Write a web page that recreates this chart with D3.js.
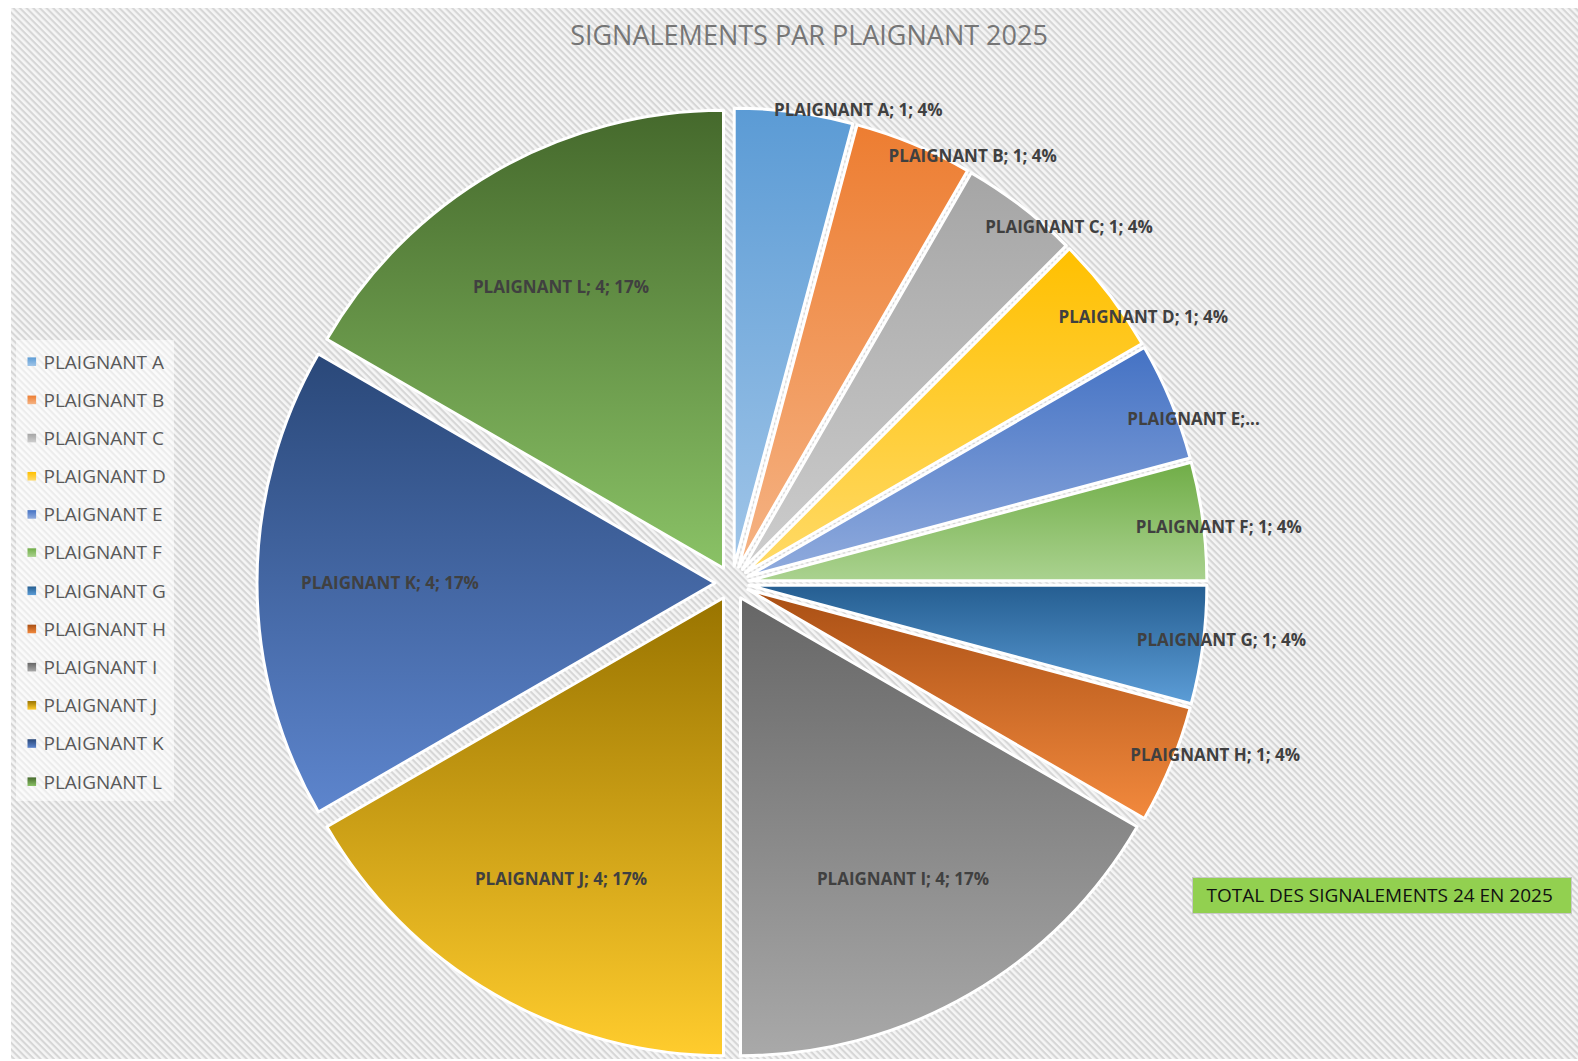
<!DOCTYPE html>
<html>
<head>
<meta charset="utf-8">
<script src="https://cdn.jsdelivr.net/npm/d3@7"></script>
<style>
  body { margin: 0; background: #fff; }
  svg { display: block; }
</style>
</head>
<body>
<div id="chart"></div>
<script>
(function(){
var width = 1578,
	height = 1061,
	cx = 732,
	cy = 583,
	radius = 458,
	explode = 17,
	plotRight = 1306;

// data
var year = 2025;
var categories = ["PLAIGNANT A","PLAIGNANT B","PLAIGNANT C","PLAIGNANT D","PLAIGNANT E","PLAIGNANT F",
	"PLAIGNANT G","PLAIGNANT H","PLAIGNANT I","PLAIGNANT J","PLAIGNANT K","PLAIGNANT L"];
var values = [1,1,1,1,1,1,1,1,4,4,4,4];
var truncated = ["PLAIGNANT E"];

// palette: top (shade) -> bottom (tint) of each slice
var colorTop = ["#5b9bd5","#ed7d31","#a5a5a5","#ffc000","#4472c4","#70ad47",
	"#255e91","#a94f14","#666666","#997400","#2a4879","#45692c"];
var colorBottom = ["#a0c5e8","#f5b384","#cdcdcd","#ffda68","#90abdd","#aad28f",
	"#5c9dd7","#f2893d","#a9a9a9","#ffcc2d","#5d85cd","#8ac266"];

var total = d3.sum(values);
var pct = d3.format(".0%");

var svg = d3.select("#chart").append("svg")
	.attr("width", width)
	.attr("height", height);

var defs = svg.append("defs");

var hatch = defs.append("pattern")
	.attr("id", "hatch")
	.attr("patternUnits", "userSpaceOnUse")
	.attr("width", 4.7)
	.attr("height", 4.7)
	.attr("patternTransform", "rotate(45)");
hatch.append("rect").attr("width", 4.7).attr("height", 4.7).attr("fill", "#f5f5f5");
hatch.append("rect").attr("width", 4.7).attr("height", 2.1).attr("fill", "#d6d6d6");

categories.forEach(function(c, i){
	var g = defs.append("linearGradient")
		.attr("id", "grad" + i)
		.attr("x1", 0).attr("y1", 0).attr("x2", 0).attr("y2", 1);
	g.append("stop").attr("offset", "0%").attr("stop-color", colorTop[i]);
	g.append("stop").attr("offset", "100%").attr("stop-color", colorBottom[i]);
});

// chart area background
svg.append("rect")
	.attr("x", 11).attr("y", 8)
	.attr("width", width - 11).attr("height", 1051)
	.attr("fill", "url(#hatch)");

// title
svg.append("text")
	.attr("x", 809).attr("y", 45)
	.attr("text-anchor", "middle")
	.style("font-family", "'Open Sans', sans-serif")
	.style("font-size", "27px")
	.attr("fill", "#767676")
	.text("SIGNALEMENTS PAR PLAIGNANT " + year);

// pie
var pie = d3.pie().sort(null).value(function(d){ return d; });
var arc = d3.arc().innerRadius(0).outerRadius(radius);
var arcs = pie(values);

function mid(d){ return (d.startAngle + d.endAngle) / 2; }

var slices = svg.append("g").attr("transform", "translate(" + cx + "," + cy + ")");

slices.selectAll("path").data(arcs).enter().append("path")
	.attr("d", arc)
	.attr("transform", function(d){
		var a = mid(d);
		return "translate(" + (explode * Math.sin(a)) + "," + (-explode * Math.cos(a)) + ")";
	})
	.attr("fill", function(d, i){ return "url(#grad" + i + ")"; })
	.attr("stroke", "#fff")
	.attr("stroke-width", 3)
	.attr("stroke-linejoin", "round");

// data labels (best-fit style: small slices spill over the rim)
function labelPos(d){
	var a = mid(d), r;
	if (d.value / total < 0.1) {
		r = 490 + 60 * Math.max(0, -Math.cos(a));
		a = a + (7.5 * Math.PI / 180) * Math.cos(a);
	} else {
		r = 342;
	}
	return [r * Math.sin(a), -r * Math.cos(a)];
}

var labels = slices.selectAll("text.lbl").data(arcs).enter().append("text")
	.attr("class", "lbl")
	.attr("y", function(d){ return labelPos(d)[1]; })
	.attr("dy", "0.36em")
	.attr("text-anchor", "middle")
	.style("font-family", "'Open Sans', sans-serif")
	.style("font-weight", "bold")
	.style("font-size", "17px")
	.attr("fill", "#404040")
	.text(function(d, i){
		var name = categories[i];
		if (truncated.indexOf(name) >= 0) return name + ";...";
		return name + "; " + d.value + "; " + pct(d.value / total);
	});

// keep labels inside the plot area on the right
labels.attr("x", function(d){
	var x = labelPos(d)[0],
		w = this.getComputedTextLength();
	return Math.min(x, plotRight - cx - w / 2);
});

// legend
var legend = svg.append("g");
legend.append("rect")
	.attr("x", 16).attr("y", 340)
	.attr("width", 158).attr("height", 461)
	.attr("fill", "#fff").attr("fill-opacity", 0.55);

var ly = d3.scalePoint().domain(categories).range([361.7, 781.7]);

var items = legend.selectAll("g.item").data(categories).enter().append("g")
	.attr("class", "item")
	.attr("transform", function(d){ return "translate(0," + ly(d) + ")"; });

items.append("rect")
	.attr("x", 27.5).attr("y", -4.3)
	.attr("width", 8.6).attr("height", 8.6)
	.attr("fill", function(d, i){ return "url(#grad" + i + ")"; });

items.append("text")
	.attr("x", 43.5)
	.attr("dy", "0.36em")
	.style("font-family", "'Open Sans', sans-serif")
	.style("font-size", "19px")
	.attr("fill", "#595959")
	.text(function(d){ return d; });

// total box
var tot = svg.append("g");
tot.append("rect")
	.attr("x", 1192.5).attr("y", 877.5)
	.attr("width", 379).attr("height", 36)
	.attr("fill", "#92d050")
	.attr("stroke", "#c8c8c8")
	.attr("stroke-width", 1);
tot.append("text")
	.attr("x", 1206.5).attr("y", 895.5)
	.attr("dy", "0.36em")
	.style("font-family", "'Open Sans', sans-serif")
	.style("font-size", "19px")
	.attr("fill", "#111")
	.text("TOTAL DES SIGNALEMENTS " + total + " EN " + year);
})()
</script>
</body>
</html>
